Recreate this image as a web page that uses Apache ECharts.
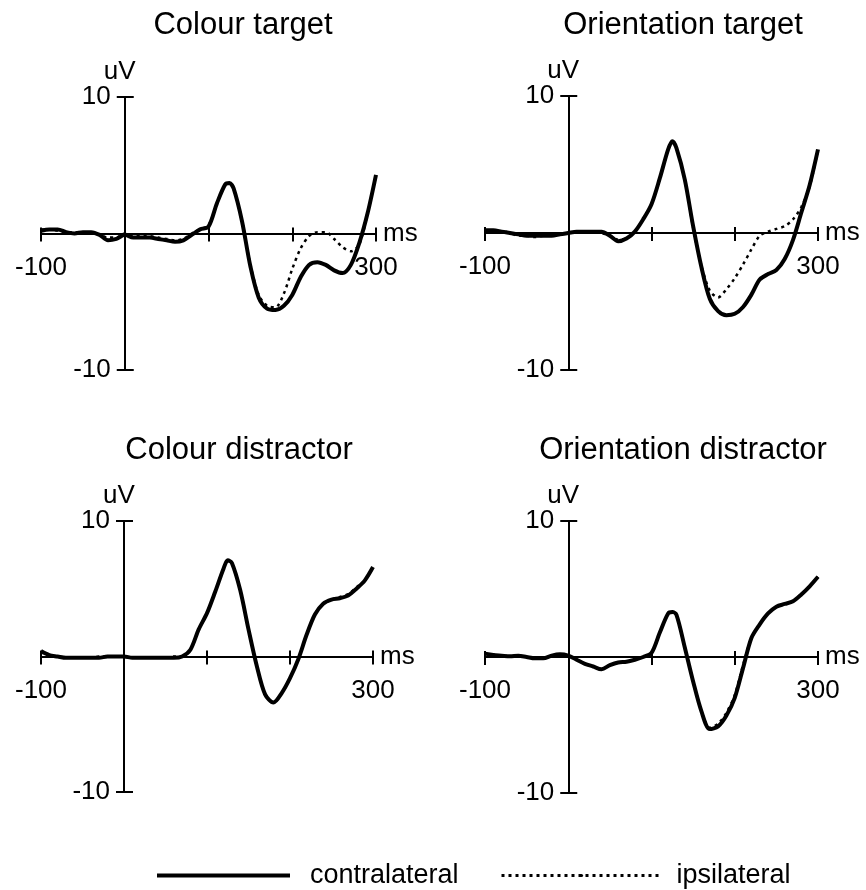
<!DOCTYPE html>
<html>
<head>
<meta charset="utf-8">
<script src="https://cdn.jsdelivr.net/npm/echarts@6/dist/echarts.min.js"></script>
<style>
  html, body { margin: 0; padding: 0; background: #fff; }
  #main { width: 866px; height: 890px; }
</style>
</head>
<body>
<div id="main"></div>
<script>
// time points (ms)
var times = [-100, -90, -80, -70, -60, -50, -40, -30, -20, -10,
    0, 10, 20, 30, 40, 50, 60, 70, 80, 90,
    100, 110, 120, 125, 130, 140, 150, 160, 170, 180,
    190, 200, 210, 220, 230, 240, 250, 260, 270, 280, 290, 300];

var panelTitles = ['Colour target', 'Orientation target', 'Colour distractor', 'Orientation distractor'];
var xLabels = [-100, 300];
var yLabels = [-10, 10];

// uV values
var colourTargetContra = [0.2, 0.3, 0.3, 0.1, 0.0, 0.1, 0.1, -0.1, -0.5, -0.4,
    -0.1, -0.3, -0.3, -0.3, -0.4, -0.5, -0.6, -0.5, -0.1, 0.3,
    0.5, 2.2, 3.6, 3.7, 3.3, 0.9, -2.4, -4.7, -5.5, -5.6,
    -5.3, -4.5, -3.2, -2.3, -2.1, -2.3, -2.7, -2.9, -2.3, -0.7, 1.5, 4.3];
var colourTargetIpsi = [0.3, 0.3, 0.2, 0.1, 0.1, 0.1, 0.0, -0.1, -0.3, -0.3,
    0.0, -0.2, -0.2, -0.2, -0.3, -0.4, -0.5, -0.4, 0.0, 0.3,
    0.6, 2.2, 3.6, 3.7, 3.3, 0.9, -2.3, -4.5, -5.3, -5.4,
    -4.4, -2.6, -1.1, -0.2, 0.1, 0.1, -0.4, -1.0, -1.3, -0.8, 1.5, 4.3];

var orientTargetContra = [0.2, 0.2, 0.1, 0.0, -0.1, -0.2, -0.2, -0.2, -0.2, -0.1,
    0.0, 0.1, 0.1, 0.1, 0.1, -0.2, -0.6, -0.4, 0.1, 1.0,
    2.1, 4.0, 6.1, 6.7, 6.2, 3.9, 0.5, -2.5, -4.8, -5.7,
    -6.0, -5.9, -5.4, -4.5, -3.4, -3.0, -2.7, -1.9, -0.5, 1.5, 3.5, 6.1];
var orientTargetIpsi = [0.2, 0.1, 0.1, 0.0, -0.2, -0.2, -0.3, -0.2, -0.2, -0.1,
    0.0, 0.1, 0.1, 0.1, 0.0, -0.2, -0.5, -0.4, 0.1, 1.0,
    2.1, 4.0, 6.1, 6.7, 6.2, 3.9, 0.4, -2.4, -4.2, -4.7,
    -4.1, -3.3, -2.3, -1.2, -0.2, 0.1, 0.3, 0.5, 1.0, 1.9, 3.4, 6.1];

var colourDistContra = [0.4, 0.1, 0.0, -0.1, -0.1, -0.1, -0.1, -0.1, 0.0, 0.0,
    0.0, -0.1, -0.1, -0.1, -0.1, -0.1, -0.1, 0.0, 0.5, 2.0,
    3.2, 4.8, 6.5, 7.1, 6.9, 4.9, 2.0, -0.7, -2.8, -3.4,
    -2.7, -1.6, -0.2, 1.6, 3.1, 3.9, 4.2, 4.3, 4.5, 5.0, 5.6, 6.6];
var colourDistIpsi = [0.3, 0.1, 0.0, -0.1, -0.1, -0.1, -0.1, 0.0, 0.0, 0.0,
    0.0, -0.1, -0.1, -0.1, -0.1, -0.1, 0.0, 0.0, 0.5, 2.0,
    3.2, 4.8, 6.5, 7.1, 6.9, 4.9, 2.0, -0.7, -2.8, -3.4,
    -2.7, -1.6, -0.2, 1.6, 3.1, 3.9, 4.2, 4.4, 4.6, 5.1, 5.6, 6.6];

var orientDistContra = [0.25, 0.15, 0.1, 0.05, 0.1, 0.0, -0.1, -0.1, 0.1, 0.2,
    0.1, -0.2, -0.5, -0.7, -0.9, -0.6, -0.4, -0.35, -0.2, 0.0,
    0.3, 1.8, 3.2, 3.3, 3.1, 0.7, -1.8, -4.0, -5.3, -5.1,
    -4.3, -3.0, -0.8, 1.4, 2.4, 3.2, 3.7, 3.9, 4.1, 4.6, 5.2, 5.9];
var orientDistIpsi = [0.25, 0.15, 0.1, 0.05, 0.1, 0.0, -0.1, -0.1, 0.1, 0.2,
    0.1, -0.2, -0.5, -0.7, -0.9, -0.6, -0.4, -0.35, -0.2, 0.0,
    0.3, 1.8, 3.2, 3.3, 3.1, 0.7, -1.8, -4.0, -5.2, -4.9,
    -4.1, -2.8, -0.6, 1.4, 2.4, 3.2, 3.7, 3.9, 4.1, 4.6, 5.2, 5.9];

var contraSets = [colourTargetContra, orientTargetContra, colourDistContra, orientDistContra];
var ipsiSets = [colourTargetIpsi, orientTargetIpsi, colourDistIpsi, orientDistIpsi];

var FONT = "'Liberation Sans', Arial, Helvetica, sans-serif";

// panel placement in pixels
var panels = [
    {left: 41,  top: 97,  width: 335, height: 273, titleX: 243, titleY: 25},
    {left: 485, top: 96,  width: 333, height: 274, titleX: 683, titleY: 25},
    {left: 41,  top: 521, width: 332, height: 271, titleX: 239, titleY: 450},
    {left: 485, top: 521, width: 333, height: 272, titleX: 683, titleY: 450}
];

function pairs(xs, ys) {
    var out = [];
    for (var k = 0; k < xs.length; k++) {
        out.push([xs[k], ys[k]]);
    }
    return out;
}

var axisStroke = {color: '#000', width: 2};

var option = {
    animation: false,
    backgroundColor: '#fff',
    title: [],
    grid: [],
    xAxis: [],
    yAxis: [],
    series: [],
    legend: [
        {
            data: [{name: 'contralateral', lineStyle: {width: 4, type: 'solid'}}],
            left: 155, top: 862,
            itemWidth: 133, itemHeight: 4,
            padding: 0, selectedMode: false,
            textStyle: {fontSize: 27, color: '#000', fontFamily: FONT, padding: [0, 0, 30, 15]}
        },
        {
            data: [{name: 'ipsilateral', lineStyle: {width: 3, type: [3, 4]}}],
            left: 500, top: 862,
            itemWidth: 160, itemHeight: 4,
            padding: 0, selectedMode: false,
            textStyle: {fontSize: 27, color: '#000', fontFamily: FONT, padding: [0, 0, 30, 10]}
        }
    ]
};

panels.forEach(function (p, i) {
    // axes cross at (0 ms, 0 uV): half way down, a quarter of the way across
    var toZeroY = -p.height / 2;
    var toZeroXLeft = -p.width / 4;
    var toZeroXRight = -p.width * 3 / 4;

    option.grid.push({left: p.left, top: p.top, width: p.width, height: p.height, outerBoundsMode: 'none'});

    option.title.push({
        text: panelTitles[i],
        left: p.titleX, top: p.titleY,
        textAlign: 'center', textVerticalAlign: 'middle',
        padding: 0,
        textStyle: {fontSize: 31, fontWeight: 'normal', color: '#000', fontFamily: FONT}
    });

    // main x axis (ticks pointing down, labels, "ms")
    option.xAxis.push({
        type: 'value', gridIndex: i, min: -100, max: 300, interval: 100,
        position: 'bottom', offset: toZeroY,
        axisLine: {onZero: false, lineStyle: axisStroke},
        axisTick: {show: true, length: 8, lineStyle: axisStroke},
        axisLabel: {
            margin: 21, fontSize: 26, color: '#000', fontFamily: FONT,
            formatter: function (v) { return xLabels.indexOf(v) >= 0 ? String(v) : ''; }
        },
        splitLine: {show: false},
        name: 'ms', nameLocation: 'end', nameGap: 7, nameMoveOverlap: false,
        nameTextStyle: {fontSize: 26, color: '#000', fontFamily: FONT}
    });
    // second x axis only for the upper half of the ticks
    option.xAxis.push({
        type: 'value', gridIndex: i, min: -100, max: 300, interval: 100,
        position: 'top', offset: toZeroY,
        axisLine: {onZero: false, lineStyle: axisStroke},
        axisTick: {show: true, length: 6, lineStyle: axisStroke},
        axisLabel: {show: false},
        splitLine: {show: false}
    });

    option.yAxis.push({
        type: 'value', gridIndex: i, min: -10, max: 10, interval: 10,
        position: 'left', offset: toZeroXLeft,
        axisLine: {onZero: false, lineStyle: axisStroke},
        axisTick: {show: true, length: 8, lineStyle: axisStroke},
        axisLabel: {
            margin: 14, fontSize: 26, color: '#000', fontFamily: FONT,
            formatter: function (v) { return yLabels.indexOf(v) >= 0 ? String(v) : ''; }
        },
        splitLine: {show: false},
        name: 'uV', nameLocation: 'end', nameGap: 12, nameMoveOverlap: false,
        nameTextStyle: {fontSize: 26, color: '#000', fontFamily: FONT, padding: [0, 10, 0, 0]}
    });
    option.yAxis.push({
        type: 'value', gridIndex: i, min: -10, max: 10, interval: 10,
        position: 'right', offset: toZeroXRight,
        axisLine: {onZero: false, lineStyle: axisStroke},
        axisTick: {show: true, length: 9, lineStyle: axisStroke},
        axisLabel: {show: false},
        splitLine: {show: false}
    });

    option.series.push({
        name: 'ipsilateral', type: 'line',
        xAxisIndex: 2 * i, yAxisIndex: 2 * i,
        data: pairs(times, ipsiSets[i]),
        symbol: 'none', smooth: 0.3, silent: true, z: 2,
        itemStyle: {color: '#000'},
        lineStyle: {color: '#000', width: 2.5, type: [3, 4]}
    });
    option.series.push({
        name: 'contralateral', type: 'line',
        xAxisIndex: 2 * i, yAxisIndex: 2 * i,
        data: pairs(times, contraSets[i]),
        symbol: 'none', smooth: 0.3, silent: true, z: 3,
        itemStyle: {color: '#000'},
        lineStyle: {color: '#000', width: 4}
    });
});

var chart = echarts.init(document.getElementById('main'));
chart.setOption(option);
</script>
</body>
</html>
